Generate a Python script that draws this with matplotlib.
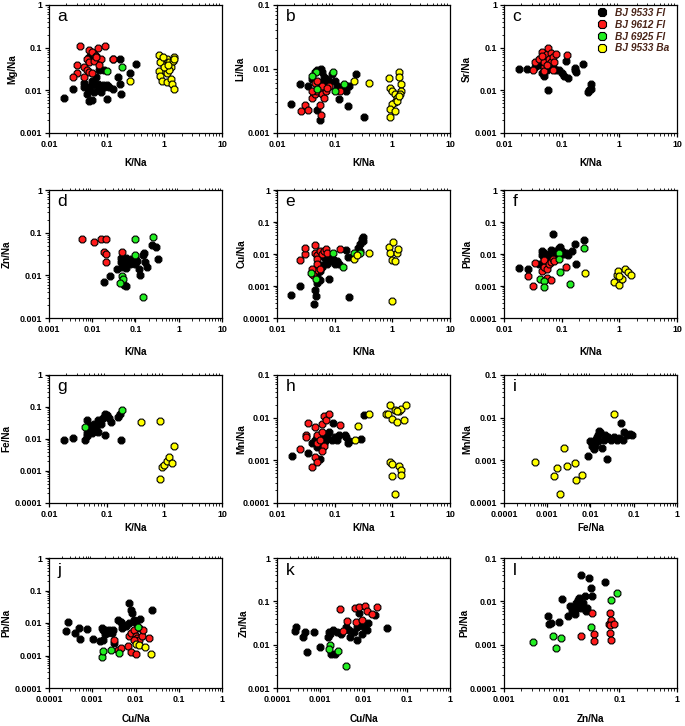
import matplotlib
matplotlib.use("Agg")
import matplotlib.pyplot as plt
import numpy as np
from matplotlib.ticker import FuncFormatter, LogLocator, NullFormatter

plt.rcParams['font.family'] = ['Liberation Sans', 'DejaVu Sans']

series_names = ["BJ 9533 Fl", "BJ 9612 Fl", "BJ 6925 Fl", "BJ 9533 Ba"]
series_colors = ["#000000", "#ff1a1a", "#22ee22", "#ffff00"]

# ---------- panel a : Mg/Na vs K/Na ----------
a_black = [(0.018,0.0065),(0.026,0.011),(0.04,0.015),(0.045,0.012),(0.05,0.01),(0.055,0.013),(0.06,0.015),
           (0.045,0.008),(0.05,0.0055),(0.055,0.006),(0.07,0.011),(0.08,0.009),(0.09,0.012),(0.1,0.013),
           (0.1,0.0063),(0.065,0.02),(0.075,0.03),(0.09,0.03),(0.05,0.06),(0.06,0.055),(0.13,0.055),
           (0.17,0.055),(0.16,0.02),(0.17,0.014),(0.175,0.008),(0.25,0.025),(0.32,0.042),(0.13,0.011),
           (0.06,0.009),(0.07,0.014),(0.04,0.012),(0.055,0.017),(0.085,0.013),(0.11,0.012)]
a_red = [(0.035,0.107),(0.05,0.09),(0.06,0.07),(0.07,0.1),(0.093,0.11),(0.055,0.08),(0.065,0.065),
         (0.045,0.055),(0.05,0.045),(0.06,0.05),(0.03,0.04),(0.04,0.035),(0.045,0.03),(0.05,0.027),
         (0.055,0.025),(0.03,0.025),(0.026,0.021),(0.08,0.055),(0.075,0.04),(0.13,0.054),(0.065,0.06),(0.04,0.02)]
a_green = [(0.1,0.029),(0.187,0.035)]
a_yellow = [(0.255,0.017),(0.8,0.069),(0.9,0.05),(1.0,0.04),(1.1,0.055),(1.2,0.045),(1.3,0.035),(1.4,0.05),
            (1.5,0.06),(1.45,0.055),(0.85,0.045),(1.0,0.03),(1.1,0.025),(1.2,0.03),(0.8,0.028),(0.85,0.022),
            (0.9,0.017),(1.1,0.016),(1.3,0.018),(1.35,0.014),(1.46,0.0107),(1.0,0.035),(1.15,0.04),(0.95,0.06)]

# ---------- panel b : Li/Na vs K/Na ----------
b_black = [(0.0176,0.0028),(0.025,0.0058),(0.035,0.0055),(0.04,0.007),(0.045,0.009),(0.05,0.0095),(0.057,0.01),
           (0.06,0.009),(0.065,0.0075),(0.07,0.007),(0.08,0.0065),(0.09,0.0085),(0.1,0.0065),(0.11,0.0055),
           (0.13,0.0052),(0.16,0.0045),(0.18,0.0055),(0.23,0.0084),(0.12,0.0034),(0.17,0.0026),(0.32,0.0018),
           (0.05,0.0023),(0.055,0.0016),(0.06,0.0063),(0.075,0.0058),(0.045,0.0045)]
b_red = [(0.026,0.0022),(0.03,0.0027),(0.035,0.0023),(0.04,0.0035),(0.045,0.004),(0.05,0.0045),(0.055,0.005),
         (0.06,0.004),(0.065,0.0035),(0.07,0.0045),(0.08,0.0055),(0.124,0.0046),(0.055,0.0027),(0.058,0.0019),
         (0.045,0.006),(0.05,0.0065),(0.06,0.0055),(0.04,0.0045),(0.075,0.005)]
b_green = [(0.048,0.0091),(0.04,0.0078),(0.05,0.0048),(0.095,0.009),(0.1,0.0046),(0.147,0.0059)]
b_yellow = [(0.22,0.0065),(0.39,0.006),(0.88,0.0072),(0.9,0.005),(1.0,0.0045),(1.1,0.004),(1.2,0.0035),
            (1.3,0.009),(1.3,0.0075),(1.4,0.0058),(1.4,0.0045),(1.35,0.004),(1.1,0.003),(1.0,0.0028),
            (0.9,0.0024),(1.1,0.0022),(0.9,0.0018),(1.2,0.0032),(1.3,0.0038)]

# ---------- panel c : Sr/Na vs K/Na ----------
c_black = [(0.0183,0.032),(0.025,0.032),(0.035,0.035),(0.04,0.04),(0.045,0.05),(0.05,0.045),(0.05,0.022),
           (0.055,0.03),(0.058,0.0104),(0.065,0.04),(0.07,0.035),(0.08,0.03),(0.09,0.03),(0.1,0.025),
           (0.11,0.022),(0.12,0.05),(0.127,0.0194),(0.17,0.03),(0.18,0.027),(0.17,0.033),(0.23,0.041),
           (0.29,0.0089),(0.325,0.0143),(0.32,0.011),(0.3,0.01),(0.045,0.025),(0.055,0.035)]
c_red = [(0.032,0.03),(0.035,0.045),(0.04,0.055),(0.045,0.08),(0.05,0.035),(0.05,0.045),(0.055,0.07),
         (0.058,0.098),(0.065,0.075),(0.06,0.055),(0.065,0.045),(0.07,0.06),(0.075,0.045),(0.08,0.07),
         (0.122,0.068),(0.05,0.028),(0.055,0.04),(0.07,0.03),(0.045,0.065)]
c_green = []
c_yellow = []

# ---------- panel d : Zn/Na vs K/Na ----------
d_black = [(0.019,0.007),(0.026,0.0095),(0.038,0.014),(0.045,0.02),(0.05,0.022),(0.055,0.018),(0.06,0.015),
           (0.06,0.025),(0.065,0.02),(0.07,0.022),(0.075,0.018),(0.08,0.024),(0.09,0.02),(0.1,0.025),
           (0.1,0.018),(0.11,0.022),(0.12,0.014),(0.127,0.0102),(0.15,0.03),(0.16,0.033),(0.17,0.02),
           (0.18,0.016),(0.237,0.052),(0.3,0.045),(0.34,0.024),(0.055,0.006),(0.06,0.0056),(0.05,0.016),(0.045,0.025)]
d_red = [(0.0059,0.070),(0.0109,0.06),(0.016,0.072),(0.021,0.07),(0.019,0.036),(0.021,0.032),(0.021,0.021),(0.05,0.036)]
d_green = [(0.097,0.072),(0.25,0.081),(0.1,0.0305),(0.05,0.0097),(0.051,0.0082),(0.0437,0.0067),(0.147,0.0031)]
d_yellow = []

# ---------- panel e : Cu/Na vs K/Na ----------
e_black = [(0.0175,0.00051),(0.025,0.00102),(0.046,0.00076),(0.047,0.0005),(0.044,0.00028),(0.175,0.00044),
           (0.08,0.0017),(0.05,0.002),(0.055,0.0015),(0.05,0.0012),(0.06,0.004),(0.07,0.006),(0.08,0.007),
           (0.09,0.006),(0.1,0.005),(0.12,0.005),(0.16,0.0135),(0.17,0.008),(0.25,0.015),(0.28,0.02),
           (0.3,0.03),(0.31,0.025),(0.31,0.033),(0.27,0.012),(0.065,0.008),(0.075,0.005),(0.085,0.009),
           (0.095,0.007),(0.11,0.006),(0.06,0.0045),(0.055,0.003)]
e_red = [(0.025,0.0063),(0.03,0.01),(0.031,0.015),(0.046,0.0193),(0.045,0.011),(0.05,0.009),(0.055,0.012),
         (0.06,0.01),(0.065,0.012),(0.07,0.014),(0.075,0.011),(0.122,0.014),(0.05,0.007),(0.05,0.005),
         (0.045,0.003),(0.04,0.0033),(0.055,0.0035),(0.042,0.0022)]
e_green = [(0.039,0.0026),(0.048,0.0016),(0.095,0.011),(0.14,0.0039),(0.22,0.011),(0.27,0.011)]
e_yellow = [(0.22,0.0071),(0.24,0.0095),(0.39,0.011),(0.88,0.017),(1.02,0.0233),(0.9,0.011),(1.0,0.0065),
            (1.1,0.006),(1.2,0.011),(1.25,0.014),(1.0,0.00033)]

# ---------- panel f : Pb/Na vs K/Na ----------
f_black = [(0.0183,0.0036),(0.026,0.0033),(0.04,0.005),(0.045,0.012),(0.05,0.011),(0.055,0.009),(0.06,0.008),
           (0.065,0.013),(0.07,0.0426),(0.075,0.012),(0.08,0.01),(0.09,0.015),(0.095,0.016),(0.1,0.012),
           (0.11,0.01),(0.12,0.011),(0.13,0.009),(0.15,0.012),(0.17,0.021),(0.18,0.0049),(0.24,0.0277),
           (0.05,0.007),(0.045,0.009)]
f_red = [(0.026,0.0021),(0.032,0.001),(0.035,0.0052),(0.045,0.003),(0.05,0.004),(0.05,0.0065),(0.055,0.0035),
         (0.06,0.005),(0.065,0.0055),(0.07,0.007),(0.075,0.006),(0.055,0.0018),(0.065,0.0015),(0.12,0.0039)]
f_green = [(0.042,0.0016),(0.05,0.0014),(0.05,0.00092),(0.09,0.0105),(0.09,0.0071),(0.095,0.0027),(0.14,0.00114),(0.24,0.015)]
f_yellow = [(0.25,0.0025),(0.82,0.0013),(0.9,0.0022),(0.95,0.003),(1.0,0.0011),(1.1,0.0017),(1.25,0.0035),
            (1.4,0.0028),(1.6,0.0022),(1.0,0.002)]

# ---------- panel g : Fe/Na vs K/Na ----------
g_black = [(0.018,0.009),(0.026,0.011),(0.042,0.009),(0.045,0.012),(0.045,0.038),(0.05,0.02),(0.055,0.015),
           (0.05,0.025),(0.06,0.03),(0.06,0.018),(0.065,0.022),(0.07,0.016),(0.07,0.04),(0.075,0.035),
           (0.08,0.03),(0.085,0.045),(0.09,0.05),(0.095,0.06),(0.1,0.055),(0.11,0.045),(0.092,0.0131),
           (0.12,0.035),(0.16,0.05),(0.17,0.06),(0.175,0.009),(0.045,0.015),(0.055,0.025)]
g_red = []
g_green = [(0.042,0.0245),(0.187,0.081)]
g_yellow = [(0.39,0.033),(0.85,0.037),(0.85,0.00056),(0.9,0.0013),(1.0,0.0015),(1.1,0.002),(1.2,0.0028),
            (1.35,0.0018),(1.46,0.0061)]

# ---------- panel h : Mn/Na vs K/Na ----------
h_black = [(0.018,0.00125),(0.035,0.0015),(0.04,0.0025),(0.045,0.003),(0.05,0.0035),(0.056,0.00106),(0.06,0.004),
           (0.07,0.003),(0.075,0.0035),(0.08,0.0045),(0.09,0.003),(0.093,0.0077),(0.1,0.0035),(0.11,0.003),
           (0.12,0.004),(0.15,0.004),(0.16,0.0035),(0.17,0.0025),(0.18,0.0028),(0.29,0.0031),(0.32,0.0114),
           (0.065,0.0025),(0.05,0.002)]
h_red = [(0.0254,0.0018),(0.032,0.0039),(0.032,0.0035),(0.035,0.0077),(0.04,0.00068),(0.045,0.0012),(0.05,0.0009),
         (0.045,0.006),(0.05,0.004),(0.05,0.0025),(0.055,0.003),(0.06,0.0045),(0.06,0.007),(0.065,0.0022),
         (0.06,0.0017),(0.065,0.011),(0.07,0.009),(0.08,0.012),(0.122,0.0067)]
h_green = []
h_yellow = [(0.227,0.003),(0.25,0.0063),(0.4,0.012),(0.78,0.0125),(0.9,0.02),(0.85,0.012),(1.0,0.0095),(1.1,0.015),
            (1.2,0.008),(1.3,0.014),(1.4,0.016),(1.6,0.009),(1.7,0.02),(1.2,0.0145),(0.9,0.00092),(1.0,0.00043),
            (1.0,0.0008),(1.3,0.00075),(1.4,0.0006),(1.4,0.00045),(1.1,0.000166)]

# ---------- panel i : Mn/Na vs Fe/Na ----------
i_black = [(0.0089,0.00125),(0.01,0.0028),(0.011,0.0022),(0.012,0.0025),(0.012,0.0018),(0.013,0.003),(0.014,0.0035),
           (0.015,0.004),(0.016,0.005),(0.017,0.0045),(0.018,0.0019),(0.02,0.003),(0.022,0.004),(0.0238,0.0011),
           (0.025,0.0035),(0.03,0.003),(0.035,0.0035),(0.04,0.003),(0.045,0.0033),(0.05,0.0076),(0.055,0.003),
           (0.06,0.0045),(0.07,0.004),(0.08,0.0042),(0.09,0.004),(0.013,0.0022),(0.015,0.0028)]
i_red = []
i_green = []
i_yellow = [(0.00051,0.00092),(0.00142,0.00043),(0.0017,0.00066),(0.002,0.000166),(0.0025,0.00196),(0.0029,0.00073),
            (0.0044,0.00087),(0.0047,0.00034),(0.0065,0.00046),(0.035,0.0119)]

# ---------- panel j : Pb/Na vs Cu/Na ----------
j_black = [(0.00025,0.0057),(0.00028,0.011),(0.0004,0.005),(0.0005,0.007),(0.00053,0.0033),(0.00076,0.0064),
           (0.00105,0.0033),(0.0017,0.007),(0.0018,0.006),(0.0018,0.003),(0.002,0.0045),(0.002,0.006),
           (0.0022,0.005),(0.0025,0.006),(0.0028,0.005),(0.003,0.006),(0.0032,0.0025),(0.004,0.012),
           (0.0045,0.011),(0.005,0.009),(0.005,0.007),(0.006,0.008),(0.0072,0.041),(0.007,0.01),(0.008,0.025),
           (0.0085,0.02),(0.009,0.012),(0.01,0.01),(0.012,0.007),(0.013,0.013),(0.0245,0.025),(0.0015,0.0028)]
j_red = [(0.0032,0.0031),(0.004,0.0015),(0.0045,0.0017),(0.0068,0.0019),(0.008,0.0013),(0.01,0.0011),(0.007,0.004),
         (0.008,0.005),(0.009,0.006),(0.01,0.004),(0.011,0.0035),(0.012,0.003),(0.014,0.004),(0.015,0.006),
         (0.02,0.0035),(0.009,0.003)]
j_green = [(0.00164,0.00089),(0.0018,0.0014),(0.0027,0.0015),(0.0042,0.0012),(0.0112,0.0076)]
j_yellow = [(0.01,0.0022),(0.012,0.0021),(0.017,0.0018),(0.023,0.00113)]

# ---------- panel k : Zn/Na vs Cu/Na ----------
k_black = [(0.000266,0.0204),(0.00028,0.025),(0.0004,0.015),(0.00045,0.02),(0.00049,0.0069),(0.0007,0.02),
           (0.001,0.0088),(0.0015,0.015),(0.0016,0.02),(0.0017,0.018),(0.0018,0.006),(0.002,0.022),(0.0022,0.006),
           (0.0025,0.02),(0.003,0.018),(0.004,0.025),(0.0045,0.022),(0.005,0.015),(0.006,0.02),(0.007,0.013),
           (0.007,0.025),(0.008,0.055),(0.008,0.028),(0.009,0.018),(0.01,0.025),(0.012,0.022),(0.013,0.032),
           (0.018,0.048),(0.0356,0.0245)]
k_red = [(0.0029,0.068),(0.0034,0.021),(0.0041,0.035),(0.0062,0.07),(0.0068,0.034),(0.008,0.073),(0.009,0.037),
         (0.011,0.078),(0.012,0.06),(0.016,0.052),(0.02,0.073)]
k_green = [(0.0017,0.0096),(0.0016,0.008),(0.0026,0.007),(0.004,0.0032)]
k_yellow = []

# ---------- panel l : Pb/Na vs Zn/Na ----------
l_black = [(0.0058,0.0046),(0.006,0.003),(0.0065,0.0032),(0.009,0.0034),(0.0102,0.0113),(0.013,0.0045),(0.014,0.008),
           (0.015,0.006),(0.016,0.007),(0.017,0.005),(0.018,0.009),(0.019,0.011),(0.02,0.012),(0.0216,0.0414),
           (0.022,0.007),(0.023,0.009),(0.025,0.013),(0.026,0.006),(0.028,0.007),(0.03,0.035),(0.032,0.02),
           (0.033,0.013),(0.056,0.0276),(0.018,0.0065)]
l_red = [(0.022,0.0016),(0.034,0.0055),(0.037,0.0018),(0.037,0.0012),(0.065,0.003),(0.07,0.0055),(0.072,0.0038),
         (0.07,0.0028),(0.07,0.0019),(0.072,0.0013),(0.08,0.003)]
l_green = [(0.0032,0.00115),(0.007,0.0016),(0.0081,0.00085),(0.0098,0.0014),(0.032,0.0026),(0.072,0.0105),(0.09,0.0153)]
l_yellow = []

panel_letters = ["a","b","c","d","e","f","g","h","i","j","k","l"]
x_labels = ["K/Na"]*8 + ["Fe/Na","Cu/Na","Cu/Na","Zn/Na"]
y_labels = ["Mg/Na","Li/Na","Sr/Na","Zn/Na","Cu/Na","Pb/Na","Fe/Na","Mn/Na","Mn/Na","Pb/Na","Zn/Na","Pb/Na"]
x_limits = [(0.01,10)]*3 + [(0.001,10)] + [(0.01,10)]*4 + [(0.0001,1),(0.0001,1),(0.0001,1),(0.001,1)]
y_limits = [(0.001,1),(0.001,0.1),(0.001,1),(0.001,1),(0.0001,1),(0.0001,1),(0.0001,1),(0.0001,0.1),
            (0.0001,0.1),(0.0001,1),(0.001,1),(0.0001,0.1)]
panel_data = [
    (a_black,a_red,a_green,a_yellow),(b_black,b_red,b_green,b_yellow),(c_black,c_red,c_green,c_yellow),
    (d_black,d_red,d_green,d_yellow),(e_black,e_red,e_green,e_yellow),(f_black,f_red,f_green,f_yellow),
    (g_black,g_red,g_green,g_yellow),(h_black,h_red,h_green,h_yellow),(i_black,i_red,i_green,i_yellow),
    (j_black,j_red,j_green,j_yellow),(k_black,k_red,k_green,k_yellow),(l_black,l_red,l_green,l_yellow)]

W, H = 685, 726
fig = plt.figure(figsize=(W/100, H/100), dpi=100)
col_left = [49, 277, 504]
row_top = [5, 190, 375, 558]
row_bot = [133, 318, 503, 688]
xlabel_drop = [30, 34, 25, 31]          # px from axis bottom to x-label centre
ylabel_off = [-37, -37, -37, -42, -35, -37, -43, -36, -37, -43, -33, -40]  # px, label centre
ax_w = 173

def fmt(v, pos):
    return ("%.4f" % v).rstrip("0").rstrip(".")

for idx in range(12):
    r, c = divmod(idx, 3)
    l = col_left[c]; t = row_top[r]; b = row_bot[r]
    ah = b - t
    ax = fig.add_axes([l/W, 1 - b/H, ax_w/W, ah/H])
    ax.set_xscale("log"); ax.set_yscale("log")
    ax.set_xlim(*x_limits[idx]); ax.set_ylim(*y_limits[idx])
    for s_i, pts in enumerate(panel_data[idx]):
        if len(pts) == 0:
            continue
        xs = [p[0] for p in pts]; ys = [p[1] for p in pts]
        ax.scatter(xs, ys, s=28, marker="8", c=series_colors[s_i], edgecolors="black",
                   linewidths=0.8, zorder=3 + (1 if s_i else 0))
    ax.xaxis.set_major_formatter(FuncFormatter(fmt))
    ax.yaxis.set_major_formatter(FuncFormatter(fmt))
    ax.xaxis.set_major_locator(LogLocator(base=10, numticks=10))
    ax.yaxis.set_major_locator(LogLocator(base=10, numticks=10))
    ax.xaxis.set_minor_locator(LogLocator(base=10, subs=np.arange(2, 10), numticks=20))
    ax.yaxis.set_minor_locator(LogLocator(base=10, subs=np.arange(2, 10), numticks=20))
    ax.xaxis.set_minor_formatter(NullFormatter()); ax.yaxis.set_minor_formatter(NullFormatter())
    ax.tick_params(which="major", direction="out", length=3, width=0.9, labelsize=6.4, pad=2)
    ax.tick_params(which="minor", direction="out", length=1.8, width=0.6)
    ax.tick_params(axis="x", which="minor", top=True)
    for lab in ax.get_xticklabels() + ax.get_yticklabels():
        lab.set_fontweight("bold")
    for sp in ax.spines.values():
        sp.set_linewidth(0.9)
    ax.set_xlabel(x_labels[idx], fontsize=7.2, fontweight="bold")
    ax.xaxis.set_label_coords(0.5, -(xlabel_drop[r] - 5) / ah)
    ax.set_ylabel(y_labels[idx], fontsize=7.2, fontweight="bold")
    ax.yaxis.set_label_coords((ylabel_off[idx] + 5) / ax_w, 0.5)
    ax.text(0.05, 0.965, panel_letters[idx], transform=ax.transAxes, fontsize=12.5,
            ha="left", va="top")
    if idx == 2:
        handles = [plt.Line2D([], [], marker="8", ls="none", markersize=6.8, markerfacecolor=col,
                              markeredgecolor="black", markeredgewidth=0.8) for col in series_colors]
        leg = ax.legend(handles, series_names, loc="upper left", frameon=False, fontsize=7.3,
                        bbox_to_anchor=(597/W, 1 - 8/H), bbox_transform=fig.transFigure,
                        borderaxespad=0, borderpad=0, handlelength=1.0, handletextpad=0.8,
                        labelspacing=0.18)
        for tx in leg.get_texts():
            tx.set_fontstyle("italic"); tx.set_fontweight("bold"); tx.set_color("#4a2418")

fig.savefig("out.png", dpi=100)
